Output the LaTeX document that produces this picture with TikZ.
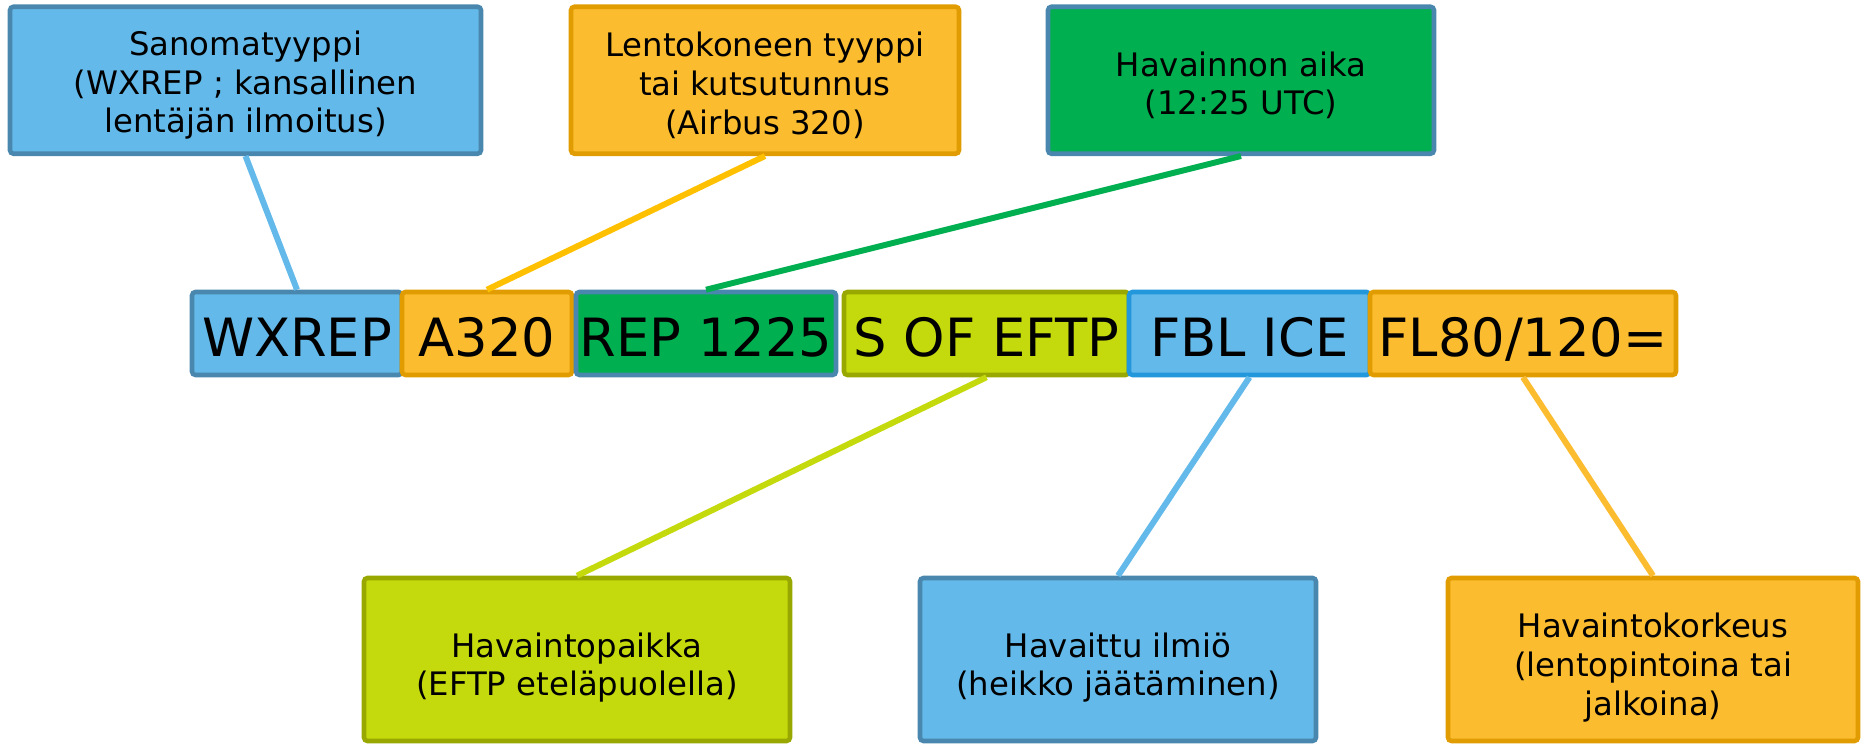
\documentclass[tikz,border=0pt]{standalone}
\usepackage{fontspec}
\setmainfont{DejaVu Sans}
\usepackage{xcolor}
\usetikzlibrary{positioning}

\definecolor{skyfill}{HTML}{63B9E9}
\definecolor{skyline}{HTML}{4A87AE}
\definecolor{iceline}{HTML}{2397DB}
\definecolor{ambfill}{HTML}{FBBC2F}
\definecolor{ambline}{HTML}{E09C00}
\definecolor{ambwire}{HTML}{FFC000}
\definecolor{grnfill}{HTML}{00AF50}
\definecolor{limefill}{HTML}{C4DA0C}
\definecolor{limeline}{HTML}{99A800}

% invisible rule that pushes the first line of a note down a bit
\newcommand{\padtop}[1]{\rule{0pt}{#1}}

\begin{document}
\begin{tikzpicture}[
        note/.style 2 args={rectangle, draw=#2, fill=#1, line width=1.3pt, rounded corners=1pt, inner sep=0pt, align=center, font=\fontsize{9.2}{11}\selectfont},
        cell/.style 2 args={rectangle, draw=#2, fill=#1, line width=1.3pt, rounded corners=1pt, inner sep=0pt, minimum height=0.83cm, text height=0.47cm, text depth=0pt, font=\fontsize{15}{18}\selectfont},
        wire/.style={draw=#1, line width=1.7pt}
    ]
        \useasboundingbox (0,0) rectangle (18.64,7.45);

        % Explanations above the message
        \node[note={skyfill}{skyline}, minimum width=4.71cm, minimum height=1.47cm] (kind) at (2.455, 6.6475) {\padtop{9.9pt}Sanomatyyppi\\(WXREP ; kansallinen\\lentäjän ilmoitus)};
        \node[note={ambfill}{ambline}, minimum width=3.88cm, minimum height=1.47cm] (craft) at (7.65, 6.6475) {\padtop{9.9pt}Lentokoneen tyyppi\\tai kutsutunnus\\(Airbus 320)};
        \node[note={grnfill}{skyline}, minimum width=3.86cm, minimum height=1.47cm] (obstime) at (12.41, 6.6475) {\padtop{9.9pt}Havainnon aika\\(12:25 UTC)};

        % The report itself, one cell per group
        \node[cell={skyfill}{skyline}, minimum width=2.10cm] (wxrep) at (2.97, 4.115) {WXREP};
        \node[cell={ambfill}{ambline}, minimum width=1.70cm] (actype) at (4.87, 4.115) {A320};
        \node[cell={grnfill}{skyline}, minimum width=2.60cm] (reptime) at (7.06, 4.115) {REP 1225};
        \node[cell={limefill}{limeline}, minimum width=2.85cm] (place) at (9.865, 4.115) {S OF EFTP};
        \node[cell={skyfill}{iceline}, minimum width=2.41cm] (icing) at (12.495, 4.115) {FBL ICE};
        \node[cell={ambfill}{ambline}, minimum width=3.06cm] (level) at (15.23, 4.115) {FL80/120=};

        % Explanations below the message
        \node[note={limefill}{limeline}, minimum width=4.26cm, minimum height=1.63cm] (placenote) at (5.77, 0.855) {\padtop{11.6pt}Havaintopaikka\\(EFTP eteläpuolella)};
        \node[note={skyfill}{skyline}, minimum width=3.96cm, minimum height=1.63cm] (wxnote) at (11.18, 0.855) {\padtop{11.6pt}Havaittu ilmiö\\(heikko jäätäminen)};
        \node[note={ambfill}{ambline}, minimum width=4.10cm, minimum height=1.63cm] (levelnote) at (16.53, 0.855) {\padtop{11.6pt}Havaintokorkeus\\(lentopintoina tai\\jalkoina)};

        % Connectors
        \draw[wire=skyfill] (kind.south) -- (wxrep.north);
        \draw[wire=ambwire] (craft.south) -- (actype.north);
        \draw[wire=grnfill] (obstime.south) -- (reptime.north);
        \draw[wire=limefill] (place.south) -- (placenote.north);
        \draw[wire=skyfill] (icing.south) -- (wxnote.north);
        \draw[wire=ambfill] (level.south) -- (levelnote.north);
    \end{tikzpicture}
\end{document}
